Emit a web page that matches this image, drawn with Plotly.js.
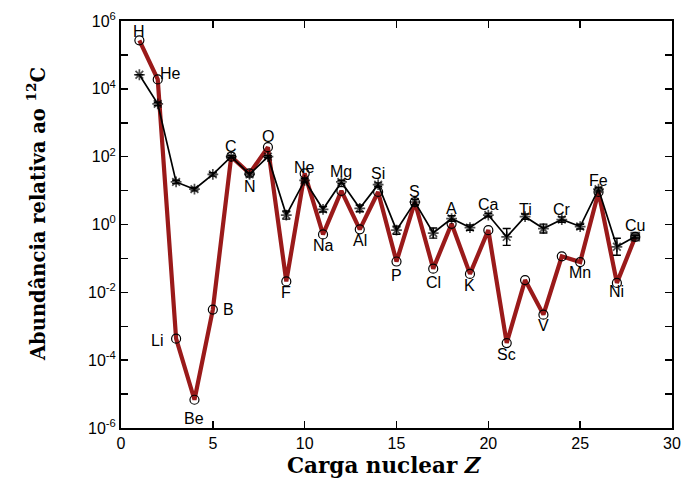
<!DOCTYPE html>
<html>
<head>
<meta charset="utf-8">
<script src="https://cdn.plot.ly/plotly-3.0.1.min.js"></script>
<style>html,body{margin:0;padding:0;background:#fff;}#chart{width:681px;height:489px;}</style>
</head>
<body>
<div id="chart"></div>
<script>
// Nuclear charge Z and element symbols
var Z = [1,2,3,4,5,6,7,8,9,10,11,12,13,14,15,16,17,18,19,20,21,22,23,24,25,26,27,28];
var elements = ['H','He','Li','Be','B','C','N','O','F','Ne','Na','Mg','Al','Si','P','S','Cl','A','K','Ca','Sc','Ti','V','Cr','Mn','Fe','Ni','Cu'];
// Solar-system abundance relative to 12C (red curve, open circles)
var solar = [2.7e5,1.9e4,4.3e-4,6.8e-6,3.1e-3,100,32,190,0.021,32,0.51,9.8,0.72,9.1,0.081,4.6,0.050,1.05,0.035,0.68,3.2e-4,0.023,2.2e-3,0.115,0.078,9.1,0.019,0.43];
// Cosmic-ray abundance relative to 12C (black curve, asterisks)
var cosmic = [2.6e4,3.6e3,18,11,30,100,30,100,1.9,20,2.8,18,3.0,15,0.68,4.6,0.56,1.5,0.81,1.9,0.43,1.7,0.76,1.4,0.87,11,0.22,0.44];
// Cosmic-ray error (in decades)
var cosmicErrDex = [0,0.05,0.05,0.05,0.05,0.03,0.05,0.03,0.12,0.05,0.08,0.05,0.1,0.05,0.12,0.08,0.15,0.08,0.08,0.05,0.25,0.08,0.13,0.08,0.07,0.05,0.25,0.04];
// Tick labels
var yTickVals = [1e-6,1e-4,1e-2,1,1e2,1e4,1e6];
var yTickText = ['10<sup>-6</sup>','10<sup>-4</sup>','10<sup>-2</sup>','10<sup>0</sup>','10<sup>2</sup>','10<sup>4</sup>','10<sup>6</sup>'];
var yMinorVals = [1e-5,1e-3,1e-1,1e1,1e3,1e5];
var xTickVals = [0,5,10,15,20,25,30];
var xTitle = 'Carga nuclear <i>Z</i>';
var yTitle = 'Abundância relativa ao <sup>12</sup>C';

// label offsets in pixels (dx, dy up-positive), relative to the solar point
var labelDx = [0,13,-19,0,16,0,0,0,0,0,0,0,0,0,0,0,0,0,0,0,0,0,0,0,0,0,0,0];
var labelDy = [9,6,-2,-19,0,10,-13,11,-11,6,-11,19,-11,18,-14,11,-14,15,-12,26,-11,71,-11,47,-10,11,-9,11];

var errPlus = cosmic.map(function(v,i){return v*(Math.pow(10,cosmicErrDex[i])-1);});
var errMinus = cosmic.map(function(v,i){return v*(1-Math.pow(10,-cosmicErrDex[i]));});
var cosmicSymbols = cosmic.map(function(v,i){return i===cosmic.length-1?'square':'asterisk-open';});
var cosmicSizes = cosmic.map(function(v,i){return i===cosmic.length-1?8:9;});

var traces = [
  {x:Z, y:solar, type:'scatter', mode:'lines', line:{color:'#9a1a1a', width:4.2}, hoverinfo:'skip'},
  {x:Z, y:cosmic, type:'scatter', mode:'lines+markers', line:{color:'#000', width:1.7},
   marker:{symbol:cosmicSymbols, size:cosmicSizes, color:'#000', line:{color:'#000', width:1.7}},
   error_y:{type:'data', symmetric:false, array:errPlus, arrayminus:errMinus, color:'#000', thickness:1.4, width:4}},
  {x:Z, y:solar, type:'scatter', mode:'markers',
   marker:{symbol:'circle-open', size:9, color:'#000', line:{color:'#000', width:1.2}}}
];

var labelFont = {family:'Liberation Sans, Arial, sans-serif', size:16, color:'#000'};
var annotations = elements.map(function(el,i){
  return {x:Z[i], y:Math.log10(solar[i]), xref:'x', yref:'y', text:el, showarrow:false,
    xshift:labelDx[i], yshift:labelDy[i], font:labelFont};
});
var titleFontX = {family:'DejaVu Serif, serif', size:21.5, color:'#000', weight:'bold'};
var titleFontY = {family:'DejaVu Serif, serif', size:19.5, color:'#000', weight:'bold'};
annotations.push({xref:'paper', yref:'paper', x:0.479, y:-0.093, xanchor:'center', yanchor:'middle',
  text:xTitle, showarrow:false, font:titleFontX});
annotations.push({xref:'paper', yref:'paper', x:-0.153, y:0.525, xanchor:'center', yanchor:'middle',
  text:yTitle, textangle:-90, showarrow:false, font:titleFontY});

var tickFont = {family:'Liberation Sans, Arial, sans-serif', size:16, color:'#000'};
var layout = {
  width:681, height:489,
  margin:{l:121, r:9, t:21, b:61},
  paper_bgcolor:'#fff', plot_bgcolor:'#fff',
  showlegend:false,
  xaxis:{range:[0,30], tickmode:'array', tickvals:xTickVals, ticks:'inside', ticklen:7, tickwidth:1.5, tickcolor:'#000',
    showline:true, linewidth:2, linecolor:'#000', mirror:'ticks', showgrid:false, zeroline:false, tickfont:tickFont},
  yaxis:{type:'log', range:[-6,6], tickmode:'array', tickvals:yTickVals, ticktext:yTickText, ticks:'inside', ticklen:7, tickwidth:1.5, tickcolor:'#000',
    showline:true, linewidth:2, linecolor:'#000', mirror:'ticks', showgrid:false, zeroline:false, tickfont:tickFont,
    minor:{tickmode:'array', tickvals:yMinorVals, ticks:'inside', ticklen:7, tickwidth:1.5, tickcolor:'#000', showgrid:false}},
  annotations:annotations
};

Plotly.newPlot('chart', traces, layout, {staticPlot:true, displayModeBar:false});
</script>
</body>
</html>
